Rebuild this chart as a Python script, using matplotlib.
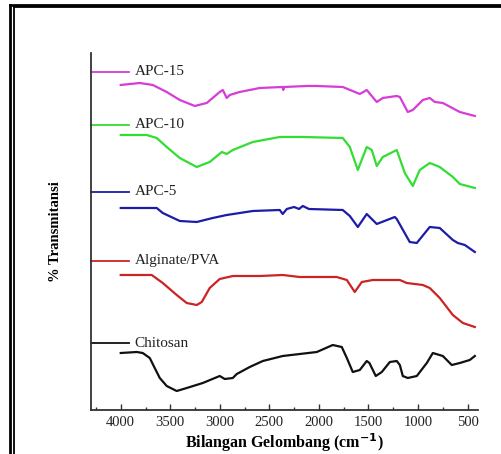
import matplotlib
matplotlib.use('Agg')
import matplotlib.pyplot as plt
from matplotlib.lines import Line2D
from matplotlib.ticker import MultipleLocator

# FTIR spectra, stacked with offsets (arbitrary transmittance units)
CHITOSAN_WN = [4000, 3838, 3778, 3707, 3657, 3606, 3536, 3435, 3334, 3172, 3001,
               2950, 2869, 2829, 2698, 2566, 2365, 2193, 2021, 1860, 1769, 1718,
               1658, 1587, 1517, 1490, 1426, 1365, 1284, 1214, 1183, 1153, 1103,
               1012, 911, 850, 749, 659, 578, 477, 426]
CHITOSAN_T = [57, 58, 57, 52, 42, 32, 24, 19, 22, 27, 34,
              31, 32, 36, 43, 49, 54, 56, 58, 65, 63, 52,
              38, 40, 49, 47, 34, 38, 48, 49, 45, 34, 32,
              34, 47, 57, 54, 45, 47, 50, 54]

ALG_WN = [4000, 3687, 3576, 3435, 3334, 3233, 3182, 3102, 3001, 2869, 2597, 2365,
          2193, 1820, 1718, 1638, 1567, 1456, 1183, 1113, 951, 881, 780, 648,
          547, 426]
ALG_T = [135, 135, 127, 115, 107, 105, 108, 122, 131, 134, 134, 135,
         133, 133, 130, 118, 128, 130, 130, 127, 125, 122, 112, 95,
         87, 83]

APC5_WN = [4000, 3637, 3576, 3404, 3233, 3071, 2930, 2667, 2395, 2365, 2324, 2250,
           2200, 2163, 2100, 1759, 1688, 1607, 1517, 1416, 1234, 1214, 1083, 1012,
           881, 780, 648, 598, 527, 426]
APC5_T = [202, 202, 197, 189, 188, 192, 195, 199, 200, 196, 201, 203,
          201, 204, 201, 200, 194, 183, 196, 186, 193, 191, 168, 167,
          183, 182, 170, 167, 165, 158]

APC10_WN = [4000, 3738, 3637, 3536, 3404, 3233, 3102, 2980, 2930, 2869, 2667, 2395,
            2163, 1759, 1688, 1607, 1517, 1466, 1416, 1355, 1214, 1133, 1052, 982,
            881, 780, 648, 578, 426]
APC10_T = [275, 275, 272, 263, 252, 243, 248, 258, 256, 260, 268, 273,
           273, 272, 263, 240, 263, 260, 244, 253, 260, 237, 224, 240,
           247, 243, 233, 226, 222]

APC15_WN = [4000, 3808, 3677, 3536, 3404, 3253, 3132, 3001, 2970, 2930, 2900, 2799,
            2597, 2365, 2360, 2350, 2122, 2021, 1759, 1587, 1517, 1416, 1355, 1214,
            1183, 1103, 1052, 951, 881, 830, 749, 578, 426]
APC15_T = [325, 327, 325, 318, 310, 304, 307, 318, 320, 312, 315, 318,
           322, 323, 320, 323, 324, 324, 323, 316, 320, 308, 312, 314,
           313, 298, 300, 310, 312, 308, 307, 298, 294]

NAMES = ['Chitosan', 'Alginate/PVA', 'APC-5', 'APC-10', 'APC-15']
COLORS = ['#111111', '#cc2424', '#1c1ca8', '#33dd33', '#d63cd6']
LABEL_LEVELS = [67, 149, 218, 285, 338]
SERIES = [(CHITOSAN_WN, CHITOSAN_T), (ALG_WN, ALG_T), (APC5_WN, APC5_T),
          (APC10_WN, APC10_T), (APC15_WN, APC15_T)]

XLIM = (4300, 395)
LABEL_LINE_END = 3920
LABEL_TEXT_X = 3860

plt.rcParams['font.family'] = ['Liberation Serif', 'DejaVu Serif']

fig = plt.figure(figsize=(5.02, 4.54), dpi=100)
ax = fig.add_axes([0.1813, 0.0969, 0.952 - 0.1813, 0.8833 - 0.0969])

for (wn, t), name, col, lvl in zip(SERIES, NAMES, COLORS, LABEL_LEVELS):
    ax.plot(wn, t, color=col, lw=1.6, solid_joinstyle='round')
    ax.plot([XLIM[0], LABEL_LINE_END], [lvl, lvl], color=col, lw=1.3,
            clip_on=False)
    ax.text(LABEL_TEXT_X, lvl, name, fontsize=11, va='center', ha='left',
            color='#222222')

ax.set_xlim(*XLIM)
ax.set_ylim(0, 357)
ax.spines['top'].set_visible(False)
ax.spines['right'].set_visible(False)
for s in ('left', 'bottom'):
    ax.spines[s].set_linewidth(1.3)
    ax.spines[s].set_color('#333333')
ax.set_yticks([])
ax.xaxis.set_major_locator(MultipleLocator(500))
ax.xaxis.set_minor_locator(MultipleLocator(250))
ax.tick_params(axis='x', which='major', direction='in', length=4, width=1,
               labelsize=10.5, pad=4, colors='#333333', labelcolor='#222222')
ax.tick_params(axis='x', which='minor', direction='in', length=2.5, width=1,
               colors='#333333')

ax.set_xlabel('Bilangan Gelombang (cm$^{\\mathbf{-1}}$)', fontsize=11.5,
              fontweight='bold', labelpad=2)
ax.set_ylabel('% Transmitansi', fontsize=10.5, fontweight='bold')
ax.yaxis.set_label_coords(-0.075, 0.5)

# double frame lines on top and left edges of the picture
W, H = 502, 454
for x0, y0, lw in [(10.5, 4.8, 2.0), (14.0, 7.4, 1.3)]:
    fig.add_artist(Line2D([x0 / W, 1], [1 - y0 / H, 1 - y0 / H],
                          color='black', lw=lw))
    fig.add_artist(Line2D([x0 / W, x0 / W], [1 - y0 / H, 0],
                          color='black', lw=lw))

fig.savefig('out.png', dpi=100)
